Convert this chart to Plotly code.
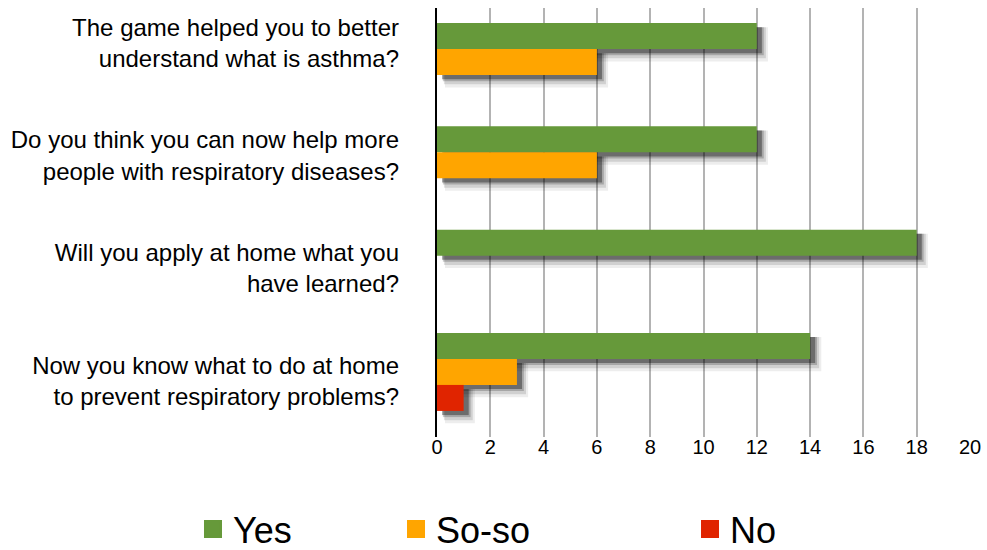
import plotly.graph_objects as go

questions = [
    "The game helped you to better<br>understand what is asthma?",
    "Do you think you can now help more<br>people with respiratory diseases?",
    "Will you apply at home what you<br>have learned?",
    "Now you know what to do at home<br>to prevent respiratory problems?",
]
series_names = ["Yes", "So-so", "No"]
yes_vals = [12, 12, 18, 14]
soso_vals = [6, 6, 0, 3]
no_vals = [0, 0, 0, 1]
x_ticks = [0, 2, 4, 6, 8, 10, 12, 14, 16, 18, 20]

colors = ["#66993A", "#FFA500", "#E02400"]
all_vals = [yes_vals, soso_vals, no_vals]
positions = list(range(len(questions)))

FONT = "Liberation Sans, Arial, Helvetica, sans-serif"
bar_w = 0.2517
first_off = -0.3775

fig = go.Figure()

# soft drop shadows: (dx units, dy units, alpha, extra height units, extra length units)
shadow_layers = [
    (0.36, 0.080, 0.07, 0.08, 0.12),
    (0.30, 0.065, 0.12, 0.05, 0.08),
    (0.24, 0.050, 0.20, 0.02, 0.04),
    (0.19, 0.040, 0.35, 0.00, 0.00),
]
for dx, dy, alpha, extra_h, extra_l in shadow_layers:
    for i, vals in enumerate(all_vals):
        fig.add_trace(go.Bar(
            y=positions, x=[v + extra_l if v > 0 else 0 for v in vals], base=dx - extra_l / 2,
            orientation="h",
            offset=first_off + i * bar_w + dy - extra_h / 2, width=bar_w + extra_h,
            marker=dict(color=f"rgba(0,0,0,{alpha})", line=dict(width=0)),
            showlegend=False, hoverinfo="skip",
        ))

legend_ids = ["legend", "legend2", "legend3"]
for i, (name, vals) in enumerate(zip(series_names, all_vals)):
    fig.add_trace(go.Bar(
        y=positions, x=vals, orientation="h", name=name,
        offset=first_off + i * bar_w, width=bar_w,
        marker=dict(color=colors[i], line=dict(width=0)),
        showlegend=False, legendgroup=name,
    ))
    # legend swatch (no data)
    fig.add_trace(go.Scatter(
        x=[None], y=[None], mode="markers", name=name, legendgroup=name,
        marker=dict(symbol="square", size=16, color=colors[i],
                    line=dict(width=2, color=colors[i])),
        legend=legend_ids[i], showlegend=True,
    ))

# label carrier on second y axis
fig.add_trace(go.Scatter(
    x=[0] * len(questions), y=positions, yaxis="y2", mode="markers",
    marker=dict(opacity=0), showlegend=False, hoverinfo="skip",
))

legend_common = dict(orientation="h", yanchor="middle", y=-0.2145, xanchor="left",
                     font=dict(family=FONT, size=36, color="black"),
                     bgcolor="rgba(0,0,0,0)", borderwidth=0, itemsizing="trace")

fig.update_layout(
    width=987, height=550,
    margin=dict(l=437, r=17, t=8, b=113, autoexpand=False),
    paper_bgcolor="white", plot_bgcolor="white",
    barmode="overlay",
    font=dict(family=FONT, color="black"),
    xaxis=dict(range=[0, 20], tickvals=x_ticks, showgrid=True, gridcolor="#b3b3b3",
               gridwidth=1.5, zeroline=False, showline=False, ticks="",
               ticklabelstandoff=-4,
               tickfont=dict(size=20, family=FONT, color="black"), fixedrange=True),
    yaxis=dict(range=[3.630, -0.523], showticklabels=False, showgrid=False, zeroline=False,
               showline=True, linecolor="black", linewidth=2, ticks=""),
    yaxis2=dict(range=[3.499, -0.311], overlaying="y", side="left", anchor="x",
                tickvals=positions, ticktext=questions, showgrid=False, zeroline=False,
                showline=False, ticks="", ticklabelstandoff=37,
                tickfont=dict(size=24, family=FONT, color="black")),
    legend=dict(x=-0.4578, **legend_common),
    legend2=dict(x=-0.0769, **legend_common),
    legend3=dict(x=0.4747, **legend_common),
)

fig.write_html("out.html", config={"displayModeBar": False},
               post_script="document.body.style.margin='0';")
